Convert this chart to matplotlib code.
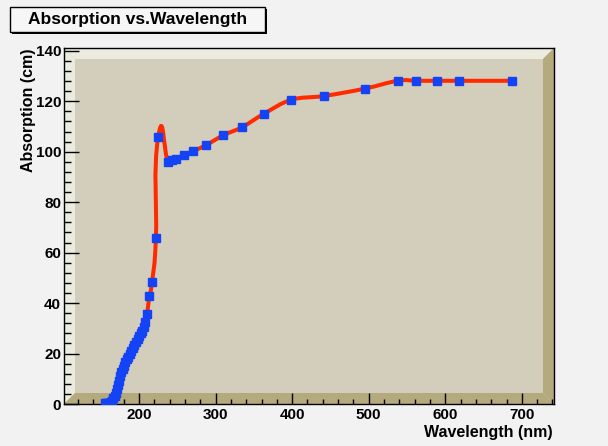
"""Absorption vs. wavelength, ROOT-style frame."""

import matplotlib

matplotlib.use("Agg")
import matplotlib.pyplot as plt
import numpy as np
from matplotlib.patches import PathPatch, Polygon, Rectangle
from matplotlib.path import Path

wavelength = [155, 157, 159, 161, 163, 165, 166.5, 168, 169.5, 171, 172.5, 174,
              175.5, 177, 178.5, 180, 182, 184, 186, 188, 190, 192, 194, 196,
              198, 200, 202, 204, 206, 208, 210.5, 213.5, 217, 222, 225,
              238, 243.5, 248, 258.5, 270, 288, 310, 335, 363.5, 399, 442,
              495, 538, 562, 589, 618, 687]
absorption = [0.3, 0.3, 0.4, 0.5, 0.8, 1.3, 2.2, 3.2, 4.5, 6.0, 7.5, 9.2,
              11.0, 12.6, 14.0, 15.2, 16.5, 17.7, 18.8, 19.8, 20.9, 22.0, 23.3, 24.6,
              25.8, 26.9, 28.0, 29.0, 30.5, 32.5, 35.7, 42.8, 48.4, 65.6, 105.7,
              96.0, 96.7, 97.0, 98.6, 100.1, 102.7, 106.5, 109.8, 115.1, 120.6, 122.1,
              125.0, 128.1, 128.1, 128.1, 128.1, 128.1]

title = "Absorption vs.Wavelength"
x_label = "Wavelength (nm)"
y_label = "Absorption (cm)"
x_range = (102, 742)
y_range = (0, 141.1)

BG = "#f2f2f2"
FILL = "#d3cebb"
LIGHT = "#ecebdf"
DARK = "#b4aa7e"
LINE = "#ff2a00"
MARK = "#1442f5"

plt.rcParams["font.family"] = ["Liberation Sans", "DejaVu Sans"]
plt.rcParams["font.weight"] = "bold"


def smooth_path(xs, ys, kx, ky):
    """Bezier path through the points, loosely mimicking ROOT's 'C' smoothing."""
    p = np.column_stack([np.asarray(xs, float) * kx, np.asarray(ys, float) * ky])
    seg = np.diff(p, axis=0)
    h = np.hypot(seg[:, 0], seg[:, 1])
    n = len(p)
    dirs = np.zeros_like(p)
    mags = np.zeros(n)
    for i in range(n):
        lo, hi = max(i - 1, 0), min(i + 1, n - 1)
        d = p[hi] - p[lo]
        dirs[i] = d / np.hypot(*d)
        mags[i] = max(h[max(i - 1, 0)], h[min(i, n - 2)])
    verts = [tuple(p[0] / (kx, ky))]
    codes = [Path.MOVETO]
    for i in range(n - 1):
        a0 = min(mags[i] / 3, 1.3 * h[i])
        a1 = min(mags[i + 1] / 3, 1.3 * h[i])
        c1 = p[i] + dirs[i] * a0
        c2 = p[i + 1] - dirs[i + 1] * a1
        verts += [tuple(c1 / (kx, ky)), tuple(c2 / (kx, ky)), tuple(p[i + 1] / (kx, ky))]
        codes += [Path.CURVE4] * 3
    return Path(verts, codes)


fig = plt.figure(figsize=(6.08, 4.46), dpi=100, facecolor=BG)
ax = fig.add_axes([64 / 608, 1 - 404 / 446, 490 / 608, 356 / 446])
ax.set_facecolor(FILL)
ax.set_xlim(*x_range)
ax.set_ylim(*y_range)

# 3D bevel of the frame
bw, bh = 11 / 490, 11 / 356
bevels = [
    ([(0, 0), (bw, bh), (bw, 1 - bh), (0, 1)], LIGHT),
    ([(0, 1), (bw, 1 - bh), (1 - bw, 1 - bh), (1, 1)], LIGHT),
    ([(0, 0), (1, 0), (1 - bw, bh), (bw, bh)], DARK),
    ([(1, 0), (1, 1), (1 - bw, 1 - bh), (1 - bw, bh)], DARK),
]
for pts, col in bevels:
    ax.add_patch(Polygon(pts, closed=True, facecolor=col, edgecolor="none",
                         transform=ax.transAxes, zorder=0.5))

kx = 490 / (x_range[1] - x_range[0])
ky = 356 / (y_range[1] - y_range[0])
ax.add_patch(PathPatch(smooth_path(wavelength, absorption, kx, ky), facecolor="none",
                       edgecolor=LINE, linewidth=2.9, zorder=2, capstyle="round"))
ax.plot(wavelength, absorption, linestyle="none", marker="s", markersize=5.8,
        markerfacecolor=MARK, markeredgecolor=MARK, zorder=3)

ax.set_xticks(np.arange(200, 701, 100))
ax.set_xticks(np.arange(120, 741, 20), minor=True)
ax.set_yticks(np.arange(0, 141, 20))
ax.set_yticks(np.arange(0, 141, 4), minor=True)
ax.tick_params(axis="x", which="major", direction="in", length=7.7, width=1,
               labelsize=11, pad=3, top=False)
ax.tick_params(axis="x", which="minor", direction="in", length=3.9, width=1, top=False)
ax.tick_params(axis="y", which="major", direction="in", length=10.6, width=1,
               labelsize=11, pad=2, right=False)
ax.tick_params(axis="y", which="minor", direction="in", length=5.3, width=1, right=False)
for lab in ax.get_xticklabels() + ax.get_yticklabels():
    lab.set_fontweight("bold")
for sp in ax.spines.values():
    sp.set_color("black")
    sp.set_linewidth(1)

fig.text(553 / 608, 1 - 432 / 446, x_label, ha="right", va="center",
         fontsize=11.5, fontweight="bold")
fig.text(29 / 608, 1 - 48 / 446, y_label, ha="center", va="top", rotation=90,
         fontsize=11.5, fontweight="bold")

# title box with shadow
fig.patches.append(Rectangle((12 / 608, 1 - 34 / 446), 255 / 608, 25 / 446,
                             transform=fig.transFigure, facecolor="black",
                             edgecolor="none"))
fig.patches.append(Rectangle((10 / 608, 1 - 32 / 446), 255 / 608, 25 / 446,
                             transform=fig.transFigure, facecolor="#f6f6f6",
                             edgecolor="black", linewidth=1))
fig.text(137.5 / 608, 1 - 19.5 / 446, title, ha="center", va="center",
         fontsize=12.5, fontweight="bold")

fig.savefig("out.png", dpi=100, facecolor=BG)
